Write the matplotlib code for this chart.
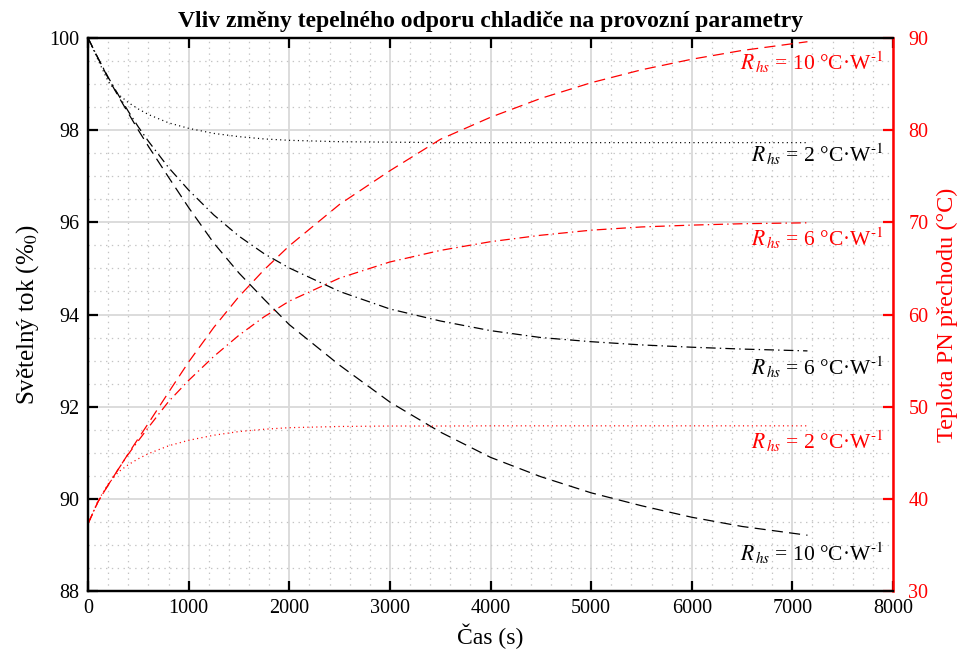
import matplotlib
matplotlib.use("Agg")
import matplotlib.pyplot as plt
from matplotlib.ticker import MultipleLocator

# cas (s) - spolecny pro vsechny krivky
t = [0, 100, 200, 300, 400, 500, 600, 800, 1000, 1250, 1500, 1750, 2000,
     2500, 3000, 3500, 4000, 4500, 5000, 5500, 6000, 6500, 7150]

# svetelny tok (%0)
flux_2 = [100, 99.52, 99.06, 98.78, 98.60, 98.46, 98.34, 98.16, 98.04, 97.93, 97.86, 97.81, 97.78,
          97.75, 97.74, 97.73, 97.73, 97.73, 97.73, 97.73, 97.73, 97.73, 97.73]
flux_6 = [100, 99.56, 99.15, 98.77, 98.41, 98.07, 97.76, 97.19, 96.70, 96.16, 95.70, 95.32, 95.01,
          94.50, 94.12, 93.86, 93.65, 93.50, 93.41, 93.34, 93.29, 93.25, 93.21]
flux_10 = [100, 99.56, 99.13, 98.74, 98.37, 98.00, 97.65, 96.98, 96.32, 95.55, 94.90, 94.33, 93.78,
           92.90, 92.10, 91.45, 90.90, 90.48, 90.13, 89.85, 89.60, 89.40, 89.21]

# teplota PN prechodu (°C)
temp_2 = [37.3, 39.8, 41.6, 42.9, 43.7, 44.35, 44.9, 45.75, 46.35, 46.9, 47.3, 47.55, 47.72,
          47.85, 47.9, 47.9, 47.92, 47.92, 47.92, 47.92, 47.92, 47.92, 47.92]
temp_6 = [37.3, 39.7, 41.5, 43.2, 44.85, 46.3, 47.75, 50.55, 52.85, 55.45, 57.75, 59.75, 61.45,
          63.95, 65.7, 66.95, 67.9, 68.6, 69.15, 69.5, 69.7, 69.85, 69.95]
temp_10 = [37.3, 39.7, 41.5, 43.2, 44.9, 46.55, 48.2, 51.55, 54.85, 58.6, 61.95, 64.85, 67.45,
           71.95, 75.6, 79.0, 81.4, 83.45, 85.15, 86.55, 87.7, 88.65, 89.6]

plt.rcParams['font.family'] = ['Liberation Serif', 'DejaVu Serif']
plt.rcParams['mathtext.fontset'] = 'stix'
plt.rcParams['lines.scale_dashes'] = False

DOT = (0, (0.8, 2.4))
DASHDOT = (0, (7, 3, 1, 3))
DASH = (0, (8, 4.5))
LW = 0.9
RED = '#ff0000'

fig = plt.figure(figsize=(9.6, 6.5), dpi=100)
ax = fig.add_axes([0.0917, 0.0908, 0.8385, 0.8507])
ax2 = ax.twinx()

ax.plot(t, flux_2, color='black', lw=LW, ls=DOT)
ax.plot(t, flux_6, color='black', lw=LW, ls=DASHDOT)
ax.plot(t, flux_10, color='black', lw=LW, ls=DASH)

ax2.plot(t, temp_2, color=RED, lw=LW, ls=DOT)
ax2.plot(t, temp_6, color=RED, lw=LW, ls=DASHDOT)
ax2.plot(t, temp_10, color=RED, lw=LW, ls=DASH)

ax.set_xlim(0, 8000)
ax.set_ylim(88, 100)
ax2.set_ylim(30, 90)

ax.xaxis.set_major_locator(MultipleLocator(1000))
ax.xaxis.set_minor_locator(MultipleLocator(200))
ax.yaxis.set_major_locator(MultipleLocator(2))
ax.yaxis.set_minor_locator(MultipleLocator(0.5))
ax2.yaxis.set_major_locator(MultipleLocator(10))

ax.grid(True, which='major', color='#d9d9d9', lw=1.3, ls='-')
ax.grid(True, which='minor', color='#c4c4c4', lw=0.9, ls=(0, (1, 3.2)))
ax.set_axisbelow(True)

ax.tick_params(which='major', direction='in', length=7, width=1.6, labelsize=14.5,
               top=True, right=False, pad=6)
ax.tick_params(which='minor', length=0)
ax2.tick_params(which='major', direction='in', length=7, width=1.6, labelsize=14.5,
                colors=RED, pad=11)
ax2.tick_params(which='minor', length=0)

for s in ['left', 'bottom', 'top']:
    ax.spines[s].set_linewidth(1.6)
    ax2.spines[s].set_linewidth(1.6)
ax2.spines['right'].set_color(RED)
ax2.spines['right'].set_linewidth(1.8)
ax.spines['right'].set_visible(False)

ax.set_xlabel('Čas (s)', fontsize=17, labelpad=4)
ax.set_ylabel('Světelný tok (%$_0$)', fontsize=18, labelpad=6)
ax2.set_ylabel('Teplota PN přechodu (°C)', fontsize=17.5, color=RED, labelpad=6)
ax.set_title('Vliv změny tepelného odporu chladiče na provozní parametry',
             fontsize=17, fontweight='bold', pad=8)

# popisky krivek
labels = [
    (99.31, '10', RED),
    (97.31, '2', 'black'),
    (95.49, '6', RED),
    (92.69, '6', 'black'),
    (91.09, '2', RED),
    (88.65, '10', 'black'),
]
for yv, r, c in labels:
    ax.text(7900, yv, r'$R_{\,hs}$ = ' + r + ' °C·W$^{\\mathrm{\u2010}1}$', color=c,
            fontsize=15.5, ha='right', va='baseline', zorder=5)

fig.savefig('out.png', dpi=100)
